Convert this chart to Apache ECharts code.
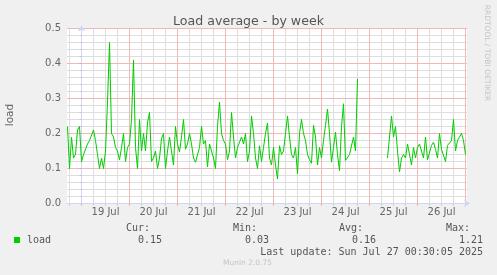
<!DOCTYPE html>
<html><head><meta charset="utf-8">
<script src="https://cdn.jsdelivr.net/npm/echarts@6/dist/echarts.min.js"></script>
<style>html,body{margin:0;padding:0;background:#f0f0f0}#c{width:497px;height:275px}</style>
</head><body><div id="c"></div>
<script>
// ---- data ----
const chartTitle = 'Load average - by week';
const seriesName = 'load';
const yAxisName = 'load';
const dayLabels = ['19 Jul', '20 Jul', '21 Jul', '22 Jul', '23 Jul', '24 Jul', '25 Jul', '26 Jul'];
// hours since 19 Jul 00:00
const dayStartHours = [0, 24, 48, 72, 96, 120, 144, 168, 192];
const dayLabelHours = [12, 36, 60, 84, 108, 132, 156, 180];
const viewStartHour = -7.25;
const viewEndHour = 192.75;
const sampleStartHour = -7;
const sampleStepHours = 1;
const loadValues = [
  0.22, 0.10, 0.19, 0.13, 0.14, 0.21, 0.22,
  0.12, 0.14, 0.135, 0.17, 0.18, 0.18, 0.21, 0.18, 0.14, 0.10, 0.13, 0.10,
  0.15, 0.29, 0.46, 0.20, 0.19, 0.16, 0.15, 0.125, 0.16, 0.20, 0.12, 0.16,
  0.17, 0.24, 0.41, 0.16, 0.10, 0.24, 0.15, 0.20, 0.15, 0.23, 0.26, 0.12,
  0.13, 0.15, 0.10, 0.13, 0.185, 0.20, 0.10, 0.15, 0.19, 0.19, 0.11, 0.22,
  0.17, 0.147, 0.19, 0.24, 0.155, 0.17, 0.20, 0.17, 0.13, 0.118, 0.12, 0.16,
  0.22, 0.17, 0.18, 0.105, 0.17, 0.175, 0.13, 0.10, 0.22, 0.29, 0.20, 0.18,
  0.17, 0.125, 0.15, 0.26, 0.19, 0.13, 0.16, 0.16, 0.19, 0.17, 0.20, 0.12,
  0.15, 0.25, 0.20, 0.13, 0.10, 0.165, 0.12, 0.16, 0.20, 0.23, 0.13, 0.11,
  0.16, 0.11, 0.07, 0.165, 0.14, 0.15, 0.20, 0.25, 0.19, 0.14, 0.13, 0.16,
  0.085, 0.20, 0.24, 0.20, 0.18, 0.14, 0.125, 0.115, 0.223, 0.19, 0.11, 0.16,
  0.13, 0.18, 0.223, 0.27, 0.20, 0.118, 0.16, 0.204, 0.14, 0.094, 0.22, 0.285,
  0.123, 0.118, 0.14, 0.143, 0.19, 0.15, 0.356,
  null, null, null, null, null, null, null, null, null, null, null, null, null, null,
  0.13, 0.19, 0.25, 0.19, 0.22, 0.15, 0.09, 0.13, 0.14, 0.13, 0.17, 0.165,
  0.11, 0.16, 0.13, 0.16, 0.17, 0.165, 0.13, 0.19, 0.125, 0.13, 0.166, 0.175,
  0.155, 0.13, 0.20, 0.155, 0.155, 0.12, 0.166, 0.17, 0.18, 0.24, 0.15, 0.18,
  0.175, 0.20, 0.18, 0.14
];
const yMajorTicks = [0.1, 0.2, 0.3, 0.4, 0.5];
const statLabels = ['Cur:', 'Min:', 'Avg:', 'Max:'];
const statValues = ['0.15', '0.03', '0.16', '1.21'];
const lastUpdateText = 'Last update: Sun Jul 27 00:30:05 2025';
const footerText = 'Munin 2.0.75';
const watermarkText = 'RRDTOOL / TOBI OETIKER';

// ---- derived ----
const seriesData = loadValues.map((v, i) => [sampleStartHour + i * sampleStepHours, v]);
const quarterHours = [];
dayStartHours.forEach(d => { [-18, -12, -6].forEach(o => { const h = d + o; if (h > viewStartHour) quarterHours.push(h); }); });
const yMinorTicks = [];
[0].concat(yMajorTicks).forEach(t => { if (t < 0.5) [1, 2, 3, 4].forEach(k => yMinorTicks.push(+(t + k * 0.02).toFixed(2))); });

const FONT = 'DejaVu Sans';
const MONO = 'DejaVu Sans Mono';
const TXT = '#555';
const AXIS = '#CFD6F8';
const MGRID = '#ec9a9a';
const GRID = '#c4c4c4';
const MGRID_LINE = '#f2b8b8';
const GRID_LINE = '#dedede';

const gridSeriesBase = {type: 'line', xAxisIndex: 0, showSymbol: false, symbol: 'none', connectNulls: false, clip: true, silent: true, emphasis: {disabled: true}, z: 1};
function vLine(h, color) {
  return Object.assign({name: 'v' + h, data: [[h, 0], [h, 0.5]], lineStyle: {color: color, width: 1}}, gridSeriesBase);
}
function hLine(v, color) {
  return Object.assign({name: 'h' + v, data: [[viewStartHour, v], [viewEndHour, v]], lineStyle: {color: color, width: 1}}, gridSeriesBase);
}

const chart = echarts.init(document.getElementById('c'), null, {renderer: 'canvas'});

const statColRight = [150, 257, 363, 470];
const statValRight = [162, 269, 376, 483];
const graphics = [];
statLabels.forEach((s, i) => {
  graphics.push({type: 'text', x: statColRight[i], y: 228, style: {text: s, font: '10px ' + MONO, fill: TXT, align: 'right', verticalAlign: 'middle'}});
  graphics.push({type: 'text', x: statValRight[i], y: 240, style: {text: statValues[i], font: '10px ' + MONO, fill: TXT, align: 'right', verticalAlign: 'middle'}});
});
graphics.push({type: 'rect', shape: {x: 14, y: 237, width: 6, height: 6}, style: {fill: '#00cc00'}});
graphics.push({type: 'text', x: 27, y: 240, style: {text: seriesName, font: '10px ' + MONO, fill: TXT, align: 'left', verticalAlign: 'middle'}});
graphics.push({type: 'text', x: 483, y: 252, style: {text: lastUpdateText, font: '10px ' + MONO, fill: TXT, align: 'right', verticalAlign: 'middle'}});
graphics.push({type: 'text', x: 247.5, y: 263, style: {text: footerText, font: '7.5px ' + FONT, fill: '#c4c4c4', align: 'center', verticalAlign: 'middle'}});
graphics.push({type: 'text', x: 487, y: 53, rotation: -Math.PI / 2, style: {text: watermarkText, font: '7.5px ' + FONT, fill: '#c4c4c4', align: 'center', verticalAlign: 'middle'}});
graphics.push({type: 'text', x: 10, y: 115, rotation: Math.PI / 2, style: {text: yAxisName, font: '10.5px ' + FONT, fill: '#666', align: 'center', verticalAlign: 'middle'}});

const series = []
  .concat(quarterHours.map(h => vLine(h, GRID_LINE)))
  .concat(yMinorTicks.map(v => hLine(v, GRID_LINE)))
  .concat(dayStartHours.map(h => vLine(h, MGRID_LINE)))
  .concat(yMajorTicks.map(v => hLine(v, MGRID_LINE)));
series.push({
  name: seriesName, type: 'line', xAxisIndex: 0, data: seriesData,
  showSymbol: false, connectNulls: false, clip: true,
  lineStyle: {color: '#00cc00', width: 1}, z: 5
});

chart.setOption({
  animation: false,
  backgroundColor: '#f0f0f0',
  title: {text: chartTitle, left: 'center', top: 9, textStyle: {fontFamily: FONT, fontSize: 12.6, fontWeight: 'normal', color: '#555', lineHeight: 15}},
  grid: {left: 67, top: 28.5, width: 400, height: 175, show: true, backgroundColor: '#ffffff', borderWidth: 0},
  xAxis: [
    {
      type: 'value', min: viewStartHour, max: viewEndHour, position: 'bottom', z: 4,
      axisLine: {show: true, lineStyle: {color: AXIS, width: 1}, symbol: ['none', 'arrow'], symbolSize: [6, 6], symbolOffset: [0, 3]},
      axisTick: {show: true, customValues: dayStartHours, length: 2, lineStyle: {color: MGRID}},
      axisLabel: {customValues: dayLabelHours, formatter: v => dayLabels[dayLabelHours.indexOf(v)], color: '#666', fontFamily: FONT, fontSize: 10, margin: 4},
      splitLine: {show: false}
    },
    {
      type: 'value', min: viewStartHour, max: viewEndHour, position: 'bottom', z: 2,
      axisLine: {show: false},
      axisTick: {show: true, customValues: quarterHours, length: 2, lineStyle: {color: GRID}},
      axisLabel: {show: false},
      splitLine: {show: false}
    }
  ],
  yAxis: {
    type: 'value', min: 0, max: 0.5, interval: 0.1, z: 3,
    axisLine: {show: true, lineStyle: {color: AXIS, width: 1}, symbol: ['none', 'arrow'], symbolSize: [6, 6], symbolOffset: [0, 3]},
    axisTick: {show: true, length: 2, lineStyle: {color: MGRID}},
    minorTick: {show: true, splitNumber: 5, length: 2, lineStyle: {color: GRID}},
    axisLabel: {formatter: v => v.toFixed(1), color: '#666', fontFamily: FONT, fontSize: 10, margin: 6},
    splitLine: {show: false}
  },
  series: series,
  graphic: graphics
});
</script></body></html>
